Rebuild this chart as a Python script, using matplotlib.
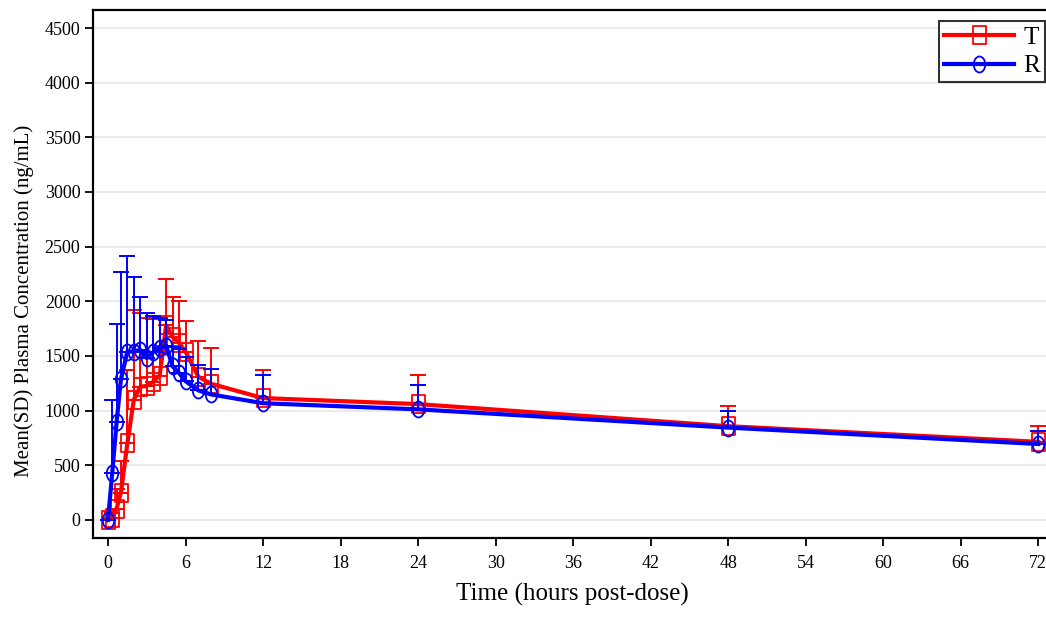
import numpy as np
import matplotlib
matplotlib.use('Agg')
import matplotlib.pyplot as plt
from matplotlib.path import Path
from matplotlib.transforms import Affine2D

# nominal sampling times (h)
times = [0, 0.33, 0.67, 1, 1.5, 2, 2.5, 3, 3.5, 4, 4.5, 5, 5.5, 6, 7, 8, 12, 24, 48, 72]

# T (test) mean and upper SD bound
t_mean = [0, 20, 105, 250, 700, 1100, 1220, 1225, 1265, 1320, 1780, 1675, 1620, 1540,
          1310, 1245, 1115, 1060, 858, 715]
t_upper = [0, 60, 280, 540, 1370, 1920, 1890, 1850, 1840, 1850, 2200, 2040, 2000, 1820,
           1640, 1570, 1370, 1327, 1043, 860]

# R (reference) mean and upper SD bound
r_mean = [0, 430, 895, 1285, 1540, 1540, 1556, 1480, 1535, 1575, 1595, 1405, 1345, 1270,
          1185, 1148, 1068, 1012, 845, 695]
r_upper = [0, 1095, 1795, 2270, 2415, 2220, 2040, 1890, 1870, 1845, 1830, 1580, 1560, 1495,
           1420, 1380, 1330, 1235, 995, 810]

xticks = list(range(0, 73, 6))
yticks = list(range(0, 4501, 500))

plt.rcParams['font.family'] = ['Liberation Serif', 'DejaVu Serif']

# tall narrow markers, like the squeezed original
squeeze = Affine2D().scale(0.72, 1.0)
circ = squeeze.transform_path(Path.unit_circle())
sq = squeeze.transform_path(Path.unit_rectangle().transformed(Affine2D().translate(-0.5, -0.5)))

fig = plt.figure(figsize=(10.46, 6.23), dpi=100)
ax = fig.add_axes([0.0889, 0.1364, 0.9168, 0.8476])

for mean, upper, col, mk, ms, lab, z in [(t_mean, t_upper, '#ff0000', sq, 13, 'T', 3),
                                         (r_mean, r_upper, '#0000ff', circ, 11.5, 'R', 4)]:
    mean = np.array(mean, dtype=float)
    sd = np.array(upper, dtype=float) - mean
    ax.errorbar(times, mean, yerr=[np.zeros_like(sd), sd], fmt='none', ecolor=col,
                elinewidth=1.4, capsize=5.5, capthick=1.4, zorder=z)
    ax.plot(times, mean, color=col, lw=3, marker=mk, ms=ms, mfc='none', mec=col,
            mew=1.3, label=lab, zorder=z + 0.5)

ax.set_xlim(-1.16, 73.06)
ax.set_ylim(-165, 4665)
ax.set_xticks(xticks)
ax.set_yticks(yticks)
ax.tick_params(axis='both', direction='out', length=6, width=1.3, labelsize=13, colors='black')
ax.tick_params(axis='x', pad=6)
ax.tick_params(axis='y', pad=3)
ax.grid(axis='y', color='#e8e8e8', lw=1.2)
ax.set_axisbelow(True)
for s in ax.spines.values():
    s.set_linewidth(1.6)
    s.set_color('black')

ax.set_xlabel('Time (hours post-dose)', fontsize=18, labelpad=8)
ax.set_ylabel('Mean(SD) Plasma Concentration (ng/mL)', fontsize=15)
ax.yaxis.set_label_coords(-0.062, 0.45)

leg = ax.legend(loc='upper right', fontsize=18, frameon=True, fancybox=False,
                handlelength=2.8, borderpad=0.2, labelspacing=0.25, handletextpad=0.35,
                borderaxespad=0.0, bbox_to_anchor=(0.999, 0.966),
                bbox_transform=fig.transFigure)
leg.get_frame().set_edgecolor('black')
leg.get_frame().set_linewidth(1.5)

fig.savefig('out.png', dpi=100)
